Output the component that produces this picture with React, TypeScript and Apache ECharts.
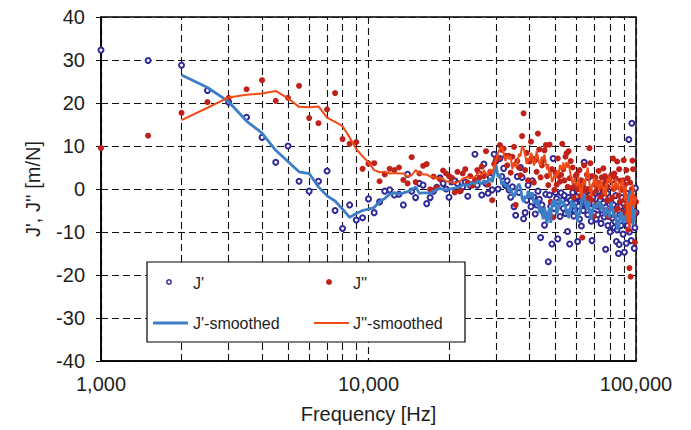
import React, { useEffect, useRef } from "react";
import * as echarts from "echarts";

// Frequencies [Hz]
const FREQ = [
  1000, 1500, 2000, 2500, 3000, 3500, 4000, 4500, 5000, 5500,
  6000, 6500, 7000, 7500, 8000, 8500, 9000, 9500, 10000, 10500,
  11000, 11500, 12000, 12500, 13000, 13500, 14000, 14500, 15000, 15500,
  16000, 16500, 17000, 17500, 18000, 18500, 19000, 19500, 20000, 20500,
  21000, 21500, 22000, 22500, 23000, 23500, 24000, 24500, 25000, 25500,
  26000, 26500, 27000, 27500, 28000, 28500, 29000, 29500, 30000, 30500,
  31000, 31500, 32000, 32500, 33000, 33500, 34000, 34500, 35000, 35500,
  36000, 36500, 37000, 37500, 38000, 38500, 39000, 39500, 40000, 40500,
  41000, 41500, 42000, 42500, 43000, 43500, 44000, 44500, 45000, 45500,
  46000, 46500, 47000, 47500, 48000, 48500, 49000, 49500, 50000, 50500,
  51000, 51500, 52000, 52500, 53000, 53500, 54000, 54500, 55000, 55500,
  56000, 56500, 57000, 57500, 58000, 58500, 59000, 59500, 60000, 60500,
  61000, 61500, 62000, 62500, 63000, 63500, 64000, 64500, 65000, 65500,
  66000, 66500, 67000, 67500, 68000, 68500, 69000, 69500, 70000, 70500,
  71000, 71500, 72000, 72500, 73000, 73500, 74000, 74500, 75000, 75500,
  76000, 76500, 77000, 77500, 78000, 78500, 79000, 79500, 80000, 80500,
  81000, 81500, 82000, 82500, 83000, 83500, 84000, 84500, 85000, 85500,
  86000, 86500, 87000, 87500, 88000, 88500, 89000, 89500, 90000, 90500,
  91000, 91500, 92000, 92500, 93000, 93500, 94000, 94500, 95000, 95500,
  96000, 96500, 97000, 97500, 98000, 98500, 99000, 99500, 100000,
];

// J' [m/N]
const J_REAL = [
  32.3, 29.9, 28.8, 22.9, 20.2, 16.7, 12.0, 6.2, 10.0, 1.8,
  -0.5, 1.8, 4.2, -5.0, -9.2, -3.7, -7.2, -6.7, -2.3, -5.5,
  -3.0, -0.5, -0.2, -1.4, -1.2, -3.7, 3.4, -0.5, -2.0, 1.3,
  0.9, -3.4, -2.0, -0.5, 0.4, 2.6, 1.3, 0.0, -1.9, 1.7,
  1.9, 1.3, -0.4, 0.5, 1.6, -1.7, 0.8, 1.1, 8.1, 0.9,
  3.5, -1.4, 5.8, 1.2, -1.0, 2.7, -0.2, 8.1, 6.5, 0.0,
  7.1, 2.9, 4.8, 0.8, 1.9, -0.2, -1.9, 0.5, -4.1, -6.1,
  2.9, -0.8, 5.0, 2.7, -6.9, -5.5, -2.6, 0.9, -1.6, -4.1,
  1.9, -1.9, -5.8, -3.7, -0.5, -2.4, -11.3, -3.7, -5.3, -8.4,
  -1.2, -6.4, -16.9, -1.4, -4.1, -12.8, 7.1, -4.5, -0.8, -2.2,
  -11.6, -3.0, -6.4, -0.9, -2.6, -4.5, -1.5, -5.7, -3.2, -9.9,
  -2.0, -12.8, -2.6, -4.9, -0.8, -6.3, -5.0, -3.3, -1.8, -12.2,
  -4.0, -7.0, -2.5, -8.6, -2.2, -5.0, 6.2, -3.7, -0.6, -3.7,
  -6.0, 2.7, -1.5, -4.5, -7.5, -12.0, -2.0, -3.3, -5.7, -1.0,
  -7.0, -4.0, -6.0, -0.5, -3.0, -2.6, -8.0, -4.9, -1.2, -3.3,
  -6.5, -2.0, -14.0, -5.0, -1.0, -8.5, -6.4, -3.5, -10.0, -2.9,
  -5.5, 2.1, -7.0, -3.7, -9.0, -7.6, -1.5, -12.2, -9.5, -4.0,
  -15.0, -12.9, -6.0, -4.1, -8.5, -2.0, -6.4, -10.5, -3.5, -14.7,
  -7.5, -4.5, -12.6, -1.0, -8.5, -5.0, 11.5, -10.0, -7.2, -3.0,
  -12.0, 15.3, -4.5, -6.4, -2.0, -13.8, -9.0, 0.2, -5.5,
];

// J'' [m/N]
const J_IMAG = [
  9.5, 12.4, 17.7, 20.2, 21.2, 23.2, 25.3, 20.5, 21.2, 24.0,
  16.5, 15.3, 18.5, 22.3, 11.6, 10.5, 10.9, 4.7, 5.9, 6.0,
  1.8, 3.4, 4.7, 4.4, 5.0, 2.1, 1.3, 7.4, 1.6, 3.6,
  5.4, 5.8, -0.1, 2.9, 0.3, 2.3, 4.3, 3.6, 3.0, 2.6,
  -0.8, 4.0, -0.5, 3.6, 4.6, 1.5, 3.0, 0.8, 2.1, 4.4,
  2.6, 5.2, 3.0, 8.8, 1.0, 4.0, -2.6, 5.8, 6.9, 7.1,
  10.2, 9.1, 9.4, 7.7, 5.5, 7.7, 3.8, 7.5, 9.8, -3.7,
  6.5, 5.0, 3.2, 12.3, 17.6, 4.4, 8.4, 2.0, 6.4, 11.0,
  7.1, 1.5, 6.7, 4.0, 12.9, 9.2, 2.7, 5.5, 6.7, 9.0,
  10.2, 3.0, 0.9, 10.3, -3.0, 4.6, -6.6, -0.2, 3.8, 1.0,
  7.1, 3.0, 1.7, 3.3, 10.5, 4.6, 2.0, 7.5, 8.3, 0.5,
  8.8, 2.5, 6.5, 0.2, 5.0, -2.0, 0.7, 3.0, 3.4, -0.1,
  1.0, 4.4, -1.6, 2.0, -11.3, 0.5, 5.5, -0.6, -3.0, 3.3,
  0.0, -2.0, 9.5, 6.0, -2.5, 3.0, -1.0, -6.4, 1.0, 2.7,
  -3.5, -0.2, 1.5, 4.2, 0.5, -1.8, -4.0, 2.7, 1.0, 4.8,
  -1.0, 3.0, 1.9, -5.0, -2.6, 0.5, -6.4, 2.0, 2.7, -3.0,
  3.3, -2.0, 7.1, 0.0, 3.6, -5.0, 2.5, 0.5, 6.4, -4.5,
  -1.5, 4.6, -3.0, 1.9, 0.0, -0.2, -5.5, 2.0, 6.7, -2.5,
  1.0, -4.0, 4.4, -6.0, 2.5, -9.5, -3.0, -18.4, 1.5, -20.4,
  -5.0, 0.0, 6.6, 4.6, -7.0, -2.0, -12.4, -5.5, -3.0,
];

// Smoothed curves start at 2000 Hz
const J_REAL_SMOOTH = [
  26.5, 23.6, 20.3, 15.8, 13.0, 9.0, 6.4, 4.0,
  3.6, 0.5, -1.6, -2.8, -4.7, -6.6, -5.7, -5.0, -4.7, -4.3,
  -2.9, -2.2, -1.2, -0.9, -1.2, -0.9, -0.6, -0.2, 0.5, -1.0,
  -0.9, -0.9, -1.0, -0.6, -0.1, 0.2, -0.1, -0.2, -0.1, 0.1,
  0.2, 0.4, 0.6, 0.9, 1.0, 0.8, 1.2, 1.5, 1.1, 1.9,
  1.6, 1.2, 2.0, 1.4, 1.8, 2.5, 1.6, 3.5, 5.6, 2.8,
  3.4, 1.0, 1.8, 0.6, 0.9, -0.4, 0.2, -1.2, -1.9, -0.6,
  0.5, 1.2, 0.2, -2.1, -3.0, -1.6, -2.2, -0.5, -2.0, -1.4,
  -0.8, -3.2, -2.5, -3.8, -2.4, -5.5, -4.0, -5.6, -7.0, -4.2,
  -6.5, -8.0, -5.6, -4.5, -7.9, -3.2, -2.8, -4.0, -2.6, -5.9,
  -5.0, -4.4, -2.1, -3.0, -3.4, -2.8, -4.1, -3.9, -5.9, -4.6,
  -6.8, -5.2, -4.0, -2.6, -4.2, -3.8, -3.2, -5.5, -6.1, -7.6,
  -5.5, -6.0, -4.3, -3.6, -1.5, -1.9, -1.0, -2.9, -3.8, -4.6,
  -2.8, -3.2, -5.0, -6.2, -7.2, -4.6, -5.0, -3.4, -3.9, -4.5,
  -3.8, -4.4, -3.0, -3.6, -2.8, -4.0, -5.0, -3.8, -3.9, -5.1,
  -4.8, -6.5, -5.8, -4.3, -5.4, -5.3, -5.1, -6.6, -4.6, -3.7,
  -3.0, -4.8, -4.6, -6.5, -5.8, -6.4, -6.0, -7.6, -8.8, -9.5,
  -9.0, -8.2, -6.3, -6.3, -5.3, -6.1, -6.1, -7.8, -7.7, -7.6,
  -6.2, -7.2, -6.3, -5.4, -3.4, -1.0, -2.5, -3.6, -5.5, -1.8,
  -0.5, -4.0, -6.2, -8.5, -6.6, -7.7, -4.8, -5.4, -5.5,
];

const J_IMAG_SMOOTH = [
  16.0, 18.9, 21.3, 21.9, 22.2, 22.8, 21.1, 19.1,
  19.0, 19.2, 16.6, 15.6, 14.6, 12.0, 9.3, 7.6, 6.2, 4.4,
  3.9, 4.0, 3.6, 3.7, 3.6, 3.6, 2.9, 3.2, 4.4, 3.6,
  3.4, 3.4, 2.9, 2.8, 2.4, 2.6, 2.3, 1.8, 1.7, 1.5,
  1.3, 1.6, 1.8, 2.4, 2.6, 2.8, 2.6, 2.5, 2.9, 3.4,
  4.0, 3.2, 4.4, 3.6, 3.2, 4.6, 3.5, 5.3, 6.8, 8.4,
  9.3, 9.8, 8.4, 6.5, 7.8, 6.9, 7.7, 4.6, 6.3, 5.0,
  6.1, 8.2, 7.6, 10.0, 9.4, 8.0, 5.8, 7.2, 6.5, 8.4,
  7.6, 5.5, 6.3, 8.8, 7.5, 6.0, 5.3, 7.5, 6.9, 8.0,
  6.1, 4.5, 5.8, 3.1, 3.9, 1.6, 2.1, 3.4, 2.5, 4.1,
  3.2, 3.9, 5.6, 5.0, 4.4, 6.2, 4.5, 5.2, 6.3, 4.9,
  6.0, 4.6, 3.2, 2.2, 1.1, 1.9, 2.4, 1.6, 0.6, 1.3,
  2.8, 0.4, -0.6, -2.0, 0.3, 1.6, 2.2, 0.9, 2.8, 4.0,
  5.0, 3.2, 1.3, 0.0, -1.7, 1.1, 0.5, 2.0, 2.8, 1.2,
  0.7, 2.1, 1.2, 0.2, -0.4, 1.6, 2.0, 0.6, 0.8, -0.6,
  -1.3, 0.4, -1.8, -0.3, 1.1, 2.5, 1.6, 3.1, 2.8, 1.5,
  2.0, 0.9, 0.2, 1.0, -0.5, 1.2, 2.4, 0.6, 0.2, 1.3,
  0.0, 0.6, -0.8, 0.3, 1.8, 0.9, 2.3, 1.2, -0.4, -1.0,
  -2.6, 0.8, -1.6, -4.5, -7.8, -3.0, -9.2, -5.0, -8.6, -3.5,
  -1.2, -3.8, 1.1, 0.5, -2.4, -4.5, -1.8, -2.6, -2.0,
];

// Vertical minor grid positions on the log axis
const MINOR_X = [2000, 3000, 4000, 5000, 6000, 7000, 8000, 9000, 20000, 30000, 40000, 50000, 60000, 70000, 80000, 90000];

const SERIES_NAMES = ["J'", "J''", "J'-smoothed", "J''-smoothed"];

const FONT = "'Liberation Sans', Arial, sans-serif";
const TEXT = "#1e1e1e";
const DASH = [7, 4];
const GRID_COLOR = "#111";
const BLUE_PT = "#2f2897";
const RED_PT = "#c0221a";
const BLUE_LN = "#3d7fc6";
const ORANGE_LN = "#f04b14";

function pair(xs: number[], ys: number[]) {
  const n = Math.min(xs.length, ys.length);
  const out: number[][] = [];
  for (let i = 0; i < n; i++) out.push([xs[i], ys[i]]);
  return out;
}

function legendText(text: string, x: number, y: number) {
  return {
    type: "text",
    z: 4,
    silent: true,
    style: { text, x, y, fill: TEXT, fontSize: 16, fontFamily: FONT, verticalAlign: "middle", align: "left" },
  };
}

export default function App() {
  const ref = useRef<HTMLDivElement>(null);
  useEffect(() => {
    if (!ref.current) return;
    const chart = echarts.init(ref.current, null, { renderer: "svg" });
    const smoothFreq = FREQ.slice(2);
    chart.setOption({
      animation: false,
      backgroundColor: "#fff",
      textStyle: { fontFamily: FONT },
      grid: {
        left: 101,
        top: 17,
        right: 55,
        bottom: 69,
        show: true,
        borderColor: "#000",
        borderWidth: 1.5,
        backgroundColor: "transparent",
      },
      xAxis: {
        type: "log",
        logBase: 10,
        min: 1000,
        max: 100000,
        name: "Frequency [Hz]",
        nameLocation: "middle",
        nameGap: 43,
        nameTextStyle: { fontSize: 20, color: TEXT, fontFamily: FONT },
        axisLine: { show: true, onZero: false, lineStyle: { color: "#000", width: 1.5 } },
        axisTick: { show: false },
        axisLabel: {
          fontSize: 20,
          color: TEXT,
          fontFamily: FONT,
          margin: 13,
          formatter: (v: number) => Math.round(v).toLocaleString("en-US"),
        },
        splitLine: { show: true, lineStyle: { color: GRID_COLOR, type: DASH, width: 1.1 } },
        minorTick: { show: false },
        minorSplitLine: { show: false },
      },
      yAxis: {
        type: "value",
        min: -40,
        max: 40,
        interval: 10,
        name: "J', J'' [m/N]",
        nameLocation: "middle",
        nameGap: 58,
        nameRotate: 90,
        nameTextStyle: { fontSize: 20, color: TEXT, fontFamily: FONT },
        axisLine: { show: true, onZero: false, lineStyle: { color: "#000", width: 1.5 } },
        axisTick: { show: true, length: 5, inside: false, lineStyle: { color: "#000", width: 1 } },
        axisLabel: { fontSize: 20, color: TEXT, fontFamily: FONT, margin: 16 },
        splitLine: { show: true, lineStyle: { color: GRID_COLOR, type: DASH, width: 1.1 } },
      },
      graphic: [
        {
          type: "rect",
          z: 3,
          silent: true,
          shape: { x: 147, y: 262, width: 318, height: 80 },
          style: { fill: "#fff", stroke: "#000", lineWidth: 1.2 },
        },
        {
          type: "circle",
          z: 4,
          silent: true,
          shape: { cx: 169, cy: 282, r: 2.2 },
          style: { fill: "#fff", stroke: BLUE_PT, lineWidth: 1.5 },
        },
        legendText(SERIES_NAMES[0], 193, 283),
        {
          type: "circle",
          z: 4,
          silent: true,
          shape: { cx: 329, cy: 282, r: 3 },
          style: { fill: RED_PT },
        },
        legendText(SERIES_NAMES[1], 353, 283),
        {
          type: "line",
          z: 4,
          silent: true,
          shape: { x1: 153, y1: 323, x2: 188, y2: 323 },
          style: { stroke: BLUE_LN, lineWidth: 2.8 },
        },
        legendText(SERIES_NAMES[2], 193, 323),
        {
          type: "line",
          z: 4,
          silent: true,
          shape: { x1: 314, y1: 323, x2: 349, y2: 323 },
          style: { stroke: ORANGE_LN, lineWidth: 2 },
        },
        legendText(SERIES_NAMES[3], 353, 323),
      ],
      series: [
        {
          name: SERIES_NAMES[0],
          type: "scatter",
          symbol: "emptyCircle",
          symbolSize: 5,
          itemStyle: { color: BLUE_PT, borderColor: BLUE_PT, borderWidth: 1.5, opacity: 1 },
          data: pair(FREQ, J_REAL),
          markLine: {
            silent: true,
            symbol: "none",
            z: 1,
            label: { show: false },
            emphasis: { disabled: true },
            lineStyle: { color: GRID_COLOR, type: DASH, width: 1.1 },
            data: MINOR_X.map((v) => ({ xAxis: v })),
          },
        },
        {
          name: SERIES_NAMES[1],
          type: "scatter",
          symbol: "circle",
          symbolSize: 6,
          itemStyle: { color: RED_PT, opacity: 1 },
          data: pair(FREQ, J_IMAG),
        },
        {
          name: SERIES_NAMES[2],
          type: "line",
          symbol: "none",
          showSymbol: false,
          lineStyle: { color: BLUE_LN, width: 2.8 },
          itemStyle: { color: BLUE_LN },
          data: pair(smoothFreq, J_REAL_SMOOTH),
        },
        {
          name: SERIES_NAMES[3],
          type: "line",
          symbol: "none",
          showSymbol: false,
          lineStyle: { color: ORANGE_LN, width: 2 },
          itemStyle: { color: ORANGE_LN },
          data: pair(smoothFreq, J_IMAG_SMOOTH),
        },
      ],
    });
    return () => chart.dispose();
  }, []);
  return (
    <div
      ref={ref}
      style={{ position: "absolute", left: 0, top: 0, width: 691, height: 430, background: "#fff" }}
    />
  );
}
